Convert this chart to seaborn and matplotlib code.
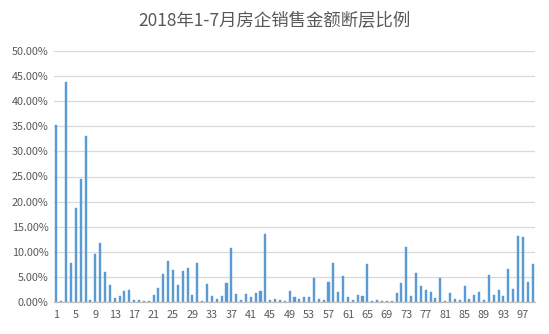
import matplotlib
matplotlib.use("Agg")
import matplotlib.pyplot as plt
import seaborn as sns
import pandas as pd
from matplotlib.ticker import FuncFormatter

title = "2018年1-7月房企销售金额断层比例"
categories = list(range(1, 100))
values = [
    35.3, 0.2, 43.8, 7.8, 18.7, 24.6, 33.1, 0.4, 9.6, 11.8,
    6.0, 3.4, 0.8, 1.2, 2.2, 2.4, 0.4, 0.4, 0.2, 0.2,
    1.4, 2.8, 5.6, 8.2, 6.4, 3.4, 6.2, 6.8, 1.4, 7.8,
    0.2, 3.6, 1.2, 0.6, 1.2, 3.8, 10.8, 1.6, 0.4, 1.6,
    1.0, 1.8, 2.2, 13.5, 0.4, 0.6, 0.4, 0.2, 2.2, 1.0,
    0.6, 1.0, 1.0, 4.8, 0.6, 0.4, 4.0, 7.8, 2.0, 5.2,
    1.0, 0.4, 1.4, 1.2, 7.6, 0.2, 0.4, 0.2, 0.2, 0.2,
    1.8, 3.8, 11.0, 1.2, 5.8, 3.2, 2.4, 2.0, 0.8, 4.8,
    0.2, 1.8, 0.6, 0.4, 3.2, 0.6, 1.4, 2.0, 0.4, 5.4,
    1.4, 2.4, 1.2, 6.6, 2.6, 13.1, 12.9, 4.0, 7.6,
]
tick_labels = [str(c) for c in range(1, 100, 4)]

df = pd.DataFrame({"cat": [str(c) for c in categories], "val": values})

sns.set_theme(style="white")
plt.rcParams["font.family"] = ["Noto Sans CJK SC", "DejaVu Sans"]

fig = plt.figure(figsize=(5.49, 3.34), dpi=100)
ax = fig.add_axes([54 / 549, 1 - 302 / 334, (535 - 54) / 549, (302 - 51) / 334])

sns.barplot(data=df, x="cat", y="val", color="#5B9BD5", width=0.42,
            saturation=1, ax=ax, order=[str(c) for c in categories],
            edgecolor="#5B9BD5", linewidth=0.3)

ax.set_ylim(0, 50)
ax.set_xlim(-0.5, len(categories) - 0.5)
ax.set_yticks([i * 5 for i in range(11)])
ax.yaxis.set_major_formatter(FuncFormatter(lambda v, p: f"{v:.2f}%"))
ax.set_xticks(list(range(0, 99, 4)))
ax.set_xticklabels(tick_labels)
ax.tick_params(axis="both", length=0, labelsize=7.8, colors="#595959")
ax.tick_params(axis="x", pad=6)
ax.tick_params(axis="y", pad=4)
ax.grid(axis="y", color="#D9D9D9", linewidth=0.9)
ax.set_axisbelow(True)
for s in ["left", "right", "top"]:
    ax.spines[s].set_visible(False)
ax.spines["bottom"].set_color("#BFBFBF")
ax.spines["bottom"].set_linewidth(0.9)
ax.set_xlabel("")
ax.set_ylabel("")

fig.text(0.5, 1 - 21 / 334, title, ha="center", va="center",
         fontsize=12.5, color="#595959")

fig.savefig("out.png", dpi=100)
